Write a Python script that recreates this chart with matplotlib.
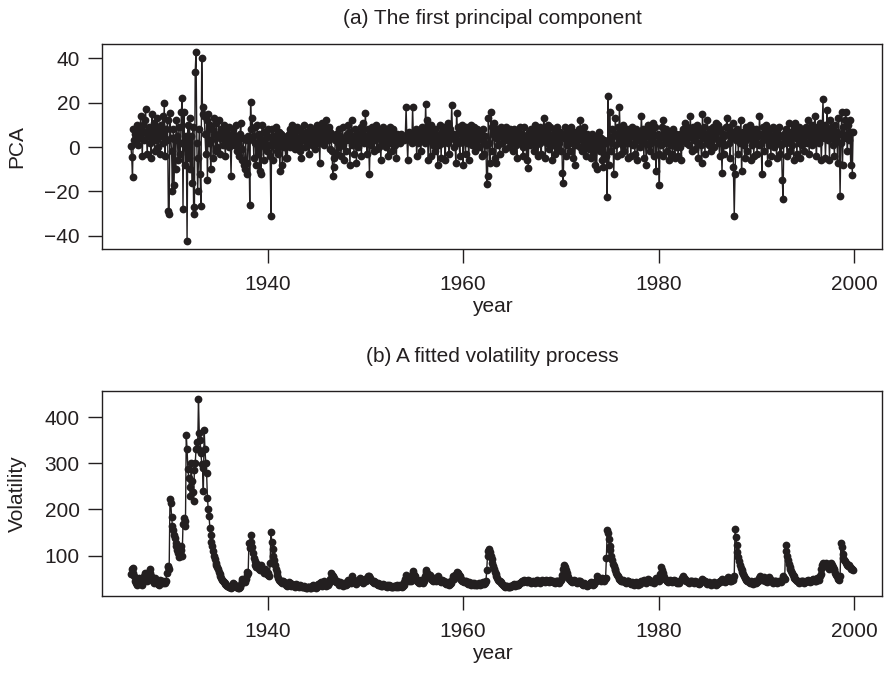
import numpy as np
import matplotlib
matplotlib.use("Agg")
import matplotlib.pyplot as plt

plt.rcParams['font.family'] = ['Liberation Sans', 'DejaVu Sans']

# monthly series, Jan 1926 .. Dec 1999 (one row per year)
start_year = 1926

pca_values = [
    0.5, -4.5, -13.5, 8, 3, 6, 2, 10, 5, 1, 8, 4,          # 1926
    14, 6, -4, 10, 3, 12, 17, 7, -3, 5, 9, 2,
    6, -5, 15, 4, 11, -2, 8, 3, 13, 0, 6, 9,
    -3, 10, 5, 14, 2, 20, -4, 8, 3, 12, -29, -30,
    15.5, 4, -2, -20, 8, -17, 3, -10, 12, 5, -6, 9,       # 1930
    -3, 2, 16, 22, -28, 16, 1, -8, 5, -42.5, 10, -5,
    13, -10, 5, -16, 9, -27, -30, 34, 43, 2, -20, -5,
    8, -12, -26.5, 40, 15, 18, 14, 6, -3, 12, -15, 15,
    2, 10, -10, 3, 8, -5, 13, 6, -2, 11, 0, 5,
    12, 4, -3, 8, 6, 1, 10, 3, -4, 7, 2, 5,
    9, 0, 4, -13, 6, 3, 8, 1, 5, 10, -2, 4,
    2, -4, 6, 11, -6, -1, 4, -8, -10, 3, -12, -7,
    5, 3, -26, 20.5, 8, 13, 5, -5, 9, 2, -8, 10,
    -3, 6, -11, 4, -12, 10, 2, -6, 7, 0, 4, -2,
    5, 8, 1, -4, -31, 8, 3, -6, 5, 1, 9, -2,              # 1940
    4, -3, 7, -11, 6, 2, -8, 5, 0, 3, -5, 2,
    -5, 3, 6, 0, 8, 4, 10, 2, 5, -1, 7, 3,
    9, 4, 1, 8, -2, -5, 6, 3, 10, 5, 0, 7,
    2, 6, 4, -3, 9, 5, 1, 7, 3, 8, -1, 5,
    6, 10, 2, 5, -7, 8, 3, 11, 4, 1, 9, 6,
    12, 5, 3, 9, -1, 7, 4, -2, -13, -9, -5, 3,
    6, -3, 2, 8, 0, 5, -4, 3, 9, 1, -6, 4,
    -2, 6, 3, 10, 7, -8, 4, 12, 1, 5, -3, 8,
    2, -7, 5, 0, 6, 3, 9, -4, 7, 11, 2, 5,
    15.5, 4, -3, 8, 2, -12, 6, 1, 9, 5, -2, 7,            # 1950
    3, 10, -1, 5, 8, 0, 4, -6, 7, 2, 9, 1,
    5, 0, 7, 3, -4, 6, 9, 2, 4, -2, 8, 3,
    1, 4, -5, 6, 3, 5, 2, 4, 6, 3, 5, 4,
    3, 5, 18, 4, -6, 7, 5, 3, 6, 2, 18, 4,
    6, 3, 8, -4, 5, 2, 7, 4, -2, 9, 5, 3,
    7, 2, 19.5, 5, 12, -6, 8, 3, -4, 10, 6, 1,
    4, 8, -2, 6, 3, -8, 5, 1, 10, -5, 7, 2,
    9, 3, -6, 7, 5, 11, 2, -3, 8, 4, 19, 6,
    5, 0, 3, -7, 15.5, 6, 9, 2, -4, 7, 3, 10,
    -8, 4, 7, -3, 9, 2, 5, -6, 8, 3, 10, 1,               # 1960
    6, 2, 9, -2, 5, 8, 3, 7, 0, 4, 6, -4,
    3, 8, -3, 5, 1, -16.5, -13, 13, 2, -7, 16, 9,
    -2, 6, 11, -5, -7, 4, 8, 1, 6, -3, 9, 5,
    2, 7, 4, -1, 5, 9, 3, 6, 0, 4, 8, 2,
    5, -2, 8, 3, 6, 1, -5, 4, 7, 2, 9, 3,
    6, 0, -4, 9, 2, 5, -6, 3, -9.5, 7, 1, 4,
    8, 3, 6, -2, 10, 4, 1, 7, -4, 5, 9, 2,
    -3, 6, 4, 13, 8, -5, 7, 2, 10, -1, 5, 9,
    3, -6, 6, 1, 8, -3, 4, 9, -1, 5, 2, 7,
    -2, 6, -11.7, -16, 4, 9, -4, 6, 1, 8, 3, -2,          # 1970
    5, 9, 2, -5, 7, -8, 4, 1, 6, 3, 8, 0,
    12, 4, -2, 7, 3, 9, 1, -4, 6, 2, 5, -1,
    3, -5, 6, 1, -3, 4, -8, 2, -10, 5, 0, 6.6,
    -2, 4, -6, 1, -9, 3, -5, 2, -4, -22.5, 23, -8,
    16, 3, -2, 8, 5, -12, 1, 13, 6, -4, 9, 2,
    18, 5, -3, 7, 1, 10, -2, 6, 3, 8, -5, 4,
    2, 7, -4, 5, 9, 1, 6, -3, 8, 3, -6, 4,
    6, 0, 4, 14, 3, 8, -5, 7, 2, -8, 5, 10,
    1, 6, -2, 8, 3, 11, -4, 5, 9, -11, 2, 6,
    -3, -17, 4, 1, 9, 12, -4, 6, 2, 8, -2, 5,             # 1980
    3, -6, 7, 1, 5, -3, 8, 2, -5, 6, 0, 4,
    -4, 2, 6, 0, -6, 3, 8, 5, 11, 7, 2, 9,
    4, 8, 1, 14, 6, -2, 9, 3, 7, -1, 5, 10,
    2, -5, 6, 8, 1, -7, 15, 4, 9, -3, 6, 2,
    12, 5, 1, 8, -2, 6, 3, 9, 0, 5, 11, 4,
    7, 10, 2, -4, 8, 3, -11.7, 6, -3, 5, 1, 9,
    13, 6, 2, 9, -5, 4, 7, 11, -9, -31, -12, 3,
    5, 8, -3, 6, 2, 12, -11, 4, 7, 1, -5, 9,
    3, -2, 7, 4, 10, -6, 5, 1, 8, -4, 6, 2,
    8, -3, 5, 1, 13.8, 6, 2, -12, 9, 4, -2, 7,            # 1990
    10, 3, -7, 6, 1, 8, -4, 5, 2, 9, 0, 6,
    4, -5, 7, 2, 9, -3, 5, 1, -15, -23.5, 6, 3,
    8, 2, -4, 6, 11, 3, -2, 7, 1, 5, -6, 9,
    11, 4, -3, 7, 2, 9, -5, 6, 1, 8, 3, -2,
    5, 9, 2, 12, 6, -3, 8, 4, 1, 10, 5, 7,
    14, 3, -4, 9, 6, 2, 11, 5, -6, 8, 21.5, 4,
    10, -5, 7, 16.5, 3, 8, -6, 12, 5, 9, 1, 6,
    -4, 10, 3, 7, -7, 13, 6, -22, 2, 16, -8, 9,
    4, 12, 16, 6, -2, 10, 3, 12, -8, 7, -12.5, 7,
]

vol_values = [
    60, 70, 73, 62, 55, 45, 40, 36, 38, 45, 52, 48,       # 1926
    42, 38, 36, 45, 55, 62, 58, 50, 44, 52, 65, 70,
    62, 55, 48, 44, 40, 45, 52, 48, 42, 38, 36, 42,
    48, 45, 42, 40, 44, 42, 40, 45, 62, 75, 78, 70,
    222, 215, 183, 165, 155, 145, 138, 128, 120, 112, 105, 98,   # 1930
    108, 120, 112, 100, 168, 182, 175, 165, 362, 330, 288, 268,
    248, 230, 300, 262, 238, 218, 285, 300, 330, 345, 330, 440,
    365, 350, 322, 298, 290, 240, 372, 330, 300, 278, 225, 200,
    185, 160, 145, 130, 120, 110, 100, 92, 85, 80, 75, 70,
    65, 60, 56, 52, 48, 45, 42, 40, 38, 36, 35, 34,
    33, 32, 31, 30, 33, 36, 40, 38, 35, 33, 31, 30,
    31, 30, 33, 38, 45, 50, 48, 44, 42, 50, 58, 65,
    62, 128, 116, 145, 130, 118, 105, 95, 88, 80, 76, 82,
    78, 72, 68, 75, 80, 72, 66, 62, 68, 72, 65, 60,
    62, 58, 55, 85, 151, 130, 115, 100, 90, 80, 72, 65,   # 1940
    58, 52, 48, 45, 42, 40, 44, 46, 42, 40, 38, 36,
    35, 38, 42, 40, 37, 35, 38, 36, 34, 33, 35, 38,
    36, 34, 33, 35, 37, 34, 32, 31, 33, 35, 32, 30,
    30, 31, 33, 32, 30, 29, 31, 34, 36, 33, 31, 30,
    32, 35, 38, 36, 40, 42, 38, 35, 40, 44, 40, 37,
    35, 38, 36, 40, 45, 50, 62, 58, 55, 52, 48, 45,
    42, 45, 40, 38, 36, 42, 40, 38, 37, 35, 40, 38,
    36, 38, 42, 48, 45, 42, 40, 50, 55, 48, 44, 42,
    40, 38, 44, 48, 45, 52, 50, 46, 42, 40, 45, 50,
    48, 46, 52, 55, 50, 56, 52, 48, 45, 42, 40, 44,       # 1950
    42, 40, 38, 40, 37, 36, 38, 35, 34, 36, 38, 36,
    35, 34, 36, 33, 34, 36, 35, 33, 34, 32, 33, 35,
    34, 33, 35, 36, 33, 34, 35, 36, 34, 33, 35, 36,
    42, 50, 58, 52, 48, 45, 50, 48, 45, 58, 66, 62,
    58, 55, 50, 48, 45, 42, 40, 44, 48, 45, 42, 40,
    45, 55, 65, 68, 62, 60, 56, 58, 52, 50, 48, 46,
    52, 50, 48, 46, 52, 55, 50, 48, 45, 42, 48, 46,
    44, 42, 40, 38, 40, 42, 38, 36, 38, 40, 48, 55,
    52, 50, 58, 55, 60, 65, 62, 58, 55, 50, 48, 46,
    44, 42, 46, 44, 42, 40, 38, 42, 40, 38, 36, 40,       # 1960
    38, 36, 40, 38, 37, 36, 38, 40, 38, 36, 40, 38,
    40, 42, 38, 40, 44, 68, 100, 110, 115, 108, 100, 92,
    85, 78, 72, 65, 60, 56, 52, 48, 46, 44, 42, 40,
    38, 36, 35, 34, 33, 34, 35, 33, 32, 34, 33, 35,
    34, 36, 38, 36, 35, 37, 39, 37, 36, 38, 40, 42,
    44, 42, 45, 48, 46, 44, 42, 45, 48, 46, 44, 42,
    40, 42, 44, 42, 40, 43, 45, 47, 44, 42, 40, 43,
    45, 48, 46, 44, 42, 45, 48, 46, 44, 42, 45, 48,
    46, 44, 42, 45, 43, 41, 44, 46, 44, 42, 40, 44,
    48, 52, 58, 72, 80, 75, 68, 62, 58, 54, 50, 48,       # 1970
    46, 44, 42, 45, 48, 46, 44, 42, 40, 44, 46, 44,
    42, 40, 38, 36, 38, 40, 38, 36, 35, 37, 36, 38,
    40, 42, 38, 36, 40, 38, 42, 44, 48, 55, 52, 50,
    48, 46, 50, 52, 48, 46, 50, 52, 95, 156, 150, 135,
    120, 112, 100, 90, 82, 78, 72, 68, 62, 58, 55, 52,
    50, 48, 46, 44, 48, 46, 44, 42, 40, 44, 46, 44,
    42, 40, 38, 42, 40, 38, 36, 40, 42, 40, 38, 36,
    40, 38, 42, 44, 42, 45, 48, 44, 42, 40, 46, 50,
    48, 46, 44, 42, 45, 43, 41, 44, 46, 52, 50, 48,
    46, 48, 60, 75, 68, 62, 58, 54, 50, 48, 46, 44,       # 1980
    42, 44, 48, 46, 44, 42, 45, 48, 46, 44, 42, 40,
    42, 40, 44, 46, 48, 52, 55, 52, 50, 48, 46, 44,
    42, 40, 42, 44, 46, 44, 42, 40, 42, 44, 42, 40,
    42, 40, 38, 40, 44, 46, 50, 48, 46, 44, 42, 40,
    38, 40, 42, 40, 38, 36, 38, 40, 42, 40, 38, 36,
    38, 40, 42, 44, 42, 46, 50, 48, 46, 44, 42, 45,
    50, 54, 52, 48, 46, 45, 50, 52, 48, 55, 158, 140,
    122, 108, 96, 88, 80, 74, 68, 64, 60, 56, 52, 50,
    48, 46, 44, 42, 40, 44, 42, 40, 38, 42, 44, 42,
    40, 42, 45, 48, 52, 55, 52, 48, 50, 54, 50, 46,       # 1990
    44, 42, 46, 50, 54, 50, 46, 44, 42, 40, 44, 46,
    44, 42, 40, 42, 44, 46, 44, 42, 48, 55, 52, 50,
    123, 110, 100, 90, 82, 76, 70, 66, 62, 58, 55, 52,
    50, 48, 46, 44, 42, 40, 42, 44, 46, 44, 42, 40,
    42, 44, 46, 48, 46, 44, 42, 44, 46, 48, 50, 48,
    46, 44, 48, 52, 50, 48, 55, 60, 72, 80, 84, 82,
    78, 80, 84, 82, 76, 72, 78, 82, 85, 80, 75, 72,
    68, 62, 58, 55, 52, 50, 48, 55, 127, 118, 104, 95,
    90, 88, 85, 82, 80, 78, 80, 76, 74, 72, 70, 68,
]

pca_yticks = [-40, -20, 0, 20, 40]
vol_yticks = [100, 200, 300, 400]
year_ticks = [1940, 1960, 1980, 2000]

years = start_year + np.arange(len(pca_values)) / 12.0

ink = '#231f20'
fs = 15

fig = plt.figure(figsize=(8.84, 6.74), dpi=100)
ax1 = fig.add_axes([102 / 884, 1 - 249 / 674, 780 / 884, 205 / 674])
ax2 = fig.add_axes([102 / 884, 1 - 596 / 674, 780 / 884, 205 / 674])

panels = [
    (ax1, pca_values, pca_yticks, 'PCA', '(a) The first principal component', 19),
    (ax2, vol_values, vol_yticks, 'Volatility', '(b) A fitted volatility process', 357),
]

for ax, vals, yt, ylab, title, title_y in panels:
    ax.plot(years, vals, '-', color=ink, lw=1.0)
    ax.plot(years, vals, 'o', color=ink, ms=5.6, mew=0)
    ax.margins(x=0.04, y=0.04)
    ax.set_xticks(year_ticks)
    ax.set_yticks(yt)
    ax.tick_params(direction='out', length=10, width=1, colors=ink,
                   labelsize=fs)
    ax.tick_params(axis='x', pad=9)
    ax.tick_params(axis='y', pad=6)
    for s in ax.spines.values():
        s.set_color(ink)
        s.set_linewidth(1)
    ax.set_xlabel('year', fontsize=fs, color=ink)
    ax.xaxis.label.set_va('center')
    ax.xaxis.set_label_coords(0.5, -0.28)
    ax.set_ylabel(ylab, fontsize=fs, color=ink)
    ax.yaxis.label.set_va('center')
    ax.yaxis.set_label_coords(-0.109, 0.5)
    fig.text(0.5 * (102 + 882) / 884, 1 - title_y / 674, title,
             ha='center', va='center', fontsize=fs, color=ink)

fig.savefig('out.png', dpi=100)
